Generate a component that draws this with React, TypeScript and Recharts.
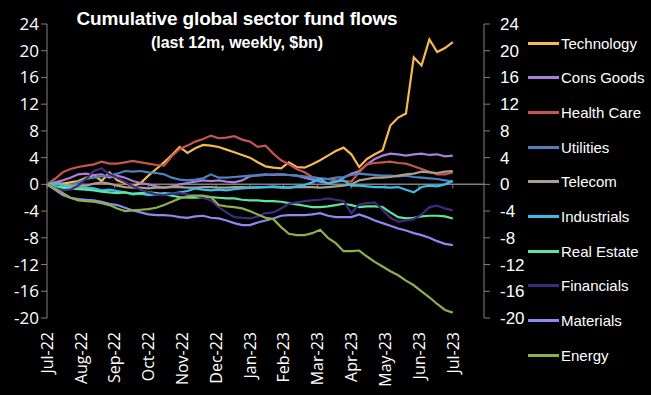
import React from 'react';
import { LineChart, Line, XAxis, YAxis, ReferenceLine } from 'recharts';

const MONTHS = ['Jul-22','Aug-22','Sep-22','Oct-22','Nov-22','Dec-22','Jan-23','Feb-23','Mar-23','Apr-23','May-23','Jun-23','Jul-23'];
const Y_TICKS = [-20,-16,-12,-8,-4,0,4,8,12,16,20,24];
const SERIES_NAMES = ['Technology','Cons Goods','Health Care','Utilities','Telecom','Industrials','Real Estate','Financials','Materials','Energy'];
const SERIES_COLORS = ['#F6B94F','#A97FD8','#C4554F','#4F81BD','#A89F8B','#38BEEB','#5CE59C','#3F2A7E','#8A8AF2','#8CB04C'];

const technology = [0,0.2,0.1,0.3,0.5,1.0,1.4,0.5,1.8,0.6, 0.2,-0.3,0.2,1.3,2.3,3.3,4.4,5.6,4.7,5.4, 5.9,5.8,5.6,5.2,4.8,4.4,4.0,3.3,2.7,2.5, 2.4,3.3,2.6,2.5,3.0,3.6,4.3,5.0,5.5,4.5, 2.6,3.8,4.5,5.1,8.8,10.0,10.6,19.0,17.8,21.7, 19.8,20.4,21.3];
const consGoods = [0,0.3,0.6,1.0,1.5,1.6,1.4,1.5,1.0,1.3, 1.0,0.5,0.2,0,-0.3,-0.5,-0.3,0,0.2,0.4, 0.6,0.5,0.6,0.4,0.3,0.6,1.2,1.4,1.5,1.4, 1.5,1.4,1.3,1.0,0.7,0.4,0.2,0.4,1.0,1.6, 2.0,3.0,3.8,4.3,4.6,4.5,4.3,4.5,4.6,4.4, 4.5,4.2,4.3];
const healthCare = [0,0.8,1.8,2.3,2.6,2.8,3.0,3.4,3.1,3.1, 3.3,3.5,3.3,3.1,2.9,2.8,4.2,5.3,5.8,6.4, 6.8,7.3,6.9,7.0,7.2,6.7,6.4,5.6,5.8,4.6, 3.6,3.0,2.3,1.8,1.1,0.9,0.8,0.6,0.5,0.4, 1.8,3.0,3.2,3.3,3.4,3.2,3.1,2.7,2.3,1.9, 1.5,1.5,1.8];
const utilities = [0,-0.3,-0.5,-0.2,0.3,0.8,1.0,1.2,1.3,1.6, 2.0,1.9,2.0,1.8,1.7,1.5,1.0,0.7,0.6,0.7, 0.9,1.5,1.0,1.0,1.1,1.2,1.3,1.3,1.4,1.5, 1.5,1.4,1.3,1.2,1.0,0.9,0.8,1.0,1.1,1.4, 1.6,1.5,1.4,1.3,1.3,1.2,1.3,1.1,1.0,0.9, 0.8,0.6,0.4];
const telecom = [0,0.2,0,-0.2,-0.3,-0.2,0.1,0.3,0.1,-0.2, -0.4,-0.5,-0.5,-0.6,-0.5,-0.5,-0.4,-0.4,-0.5,-0.5, -0.4,-0.4,-0.5,-0.5,-0.4,-0.4,-0.5,-0.5,-0.4,-0.4, -0.5,-0.5,-0.4,-0.4,-0.4,-0.5,-0.4,-0.3,-0.2,0, 0.6,0.8,1.0,1.0,1.1,1.3,1.5,1.6,1.9,1.8, 1.7,1.9,2.0];
const industrials = [0,0.2,-0.2,-0.4,-0.6,-0.5,-0.6,-0.9,-0.8,-1.0, -1.2,-1.5,-1.4,-1.6,-1.5,-1.3,-1.4,-1.2,-1.0,-0.6, -0.8,-0.9,-0.8,-0.9,-0.7,-0.6,-0.5,-0.4,-0.4,-0.3, -0.4,-0.5,-0.3,-0.1,0.3,0.8,0.1,0.4,0.6,-0.2, -0.2,-0.3,-0.4,-0.4,-0.5,-0.4,-0.8,-1.2,-0.4,-0.2, -0.3,0,0.5];
const realEstate = [0,-0.3,-0.5,-0.6,-0.7,-0.8,-0.9,-1.1,-1.2,-1.3, -1.2,-1.4,-1.3,-1.2,-1.3,-1.5,-1.7,-1.9,-2.0,-2.0, -1.9,-1.9,-2.0,-2.1,-2.1,-2.3,-2.4,-2.4,-2.5,-2.5, -2.6,-2.8,-3.0,-3.2,-3.4,-3.4,-3.3,-3.1,-2.9,-3.1, -3.4,-3.3,-3.3,-3.4,-4.2,-4.9,-5.1,-5.0,-4.8,-4.7, -4.7,-4.8,-5.1];
const financials = [0,-0.5,-0.9,-0.8,-0.2,0.8,2.0,2.4,1.5,1.0, 0.4,-0.3,-0.8,-1.2,-1.5,-1.6,-1.4,-1.3,-1.5,-1.7, -2.0,-2.4,-3.4,-4.2,-4.9,-5.0,-5.1,-4.8,-4.3,-4.2, -3.6,-2.9,-2.7,-2.5,-2.4,-2.3,-2.1,-2.3,-2.5,-4.3, -3.0,-2.8,-2.7,-3.8,-5.0,-5.6,-5.4,-5.2,-4.5,-3.4, -3.2,-3.6,-3.9];
const materials = [0,-0.8,-1.6,-2.0,-2.2,-2.3,-2.4,-2.6,-2.9,-3.1, -3.5,-3.9,-4.2,-4.5,-4.6,-4.6,-4.7,-4.9,-5.0,-4.8, -4.7,-5.0,-5.1,-5.4,-5.8,-6.1,-6.1,-5.7,-5.4,-5.1, -4.7,-4.6,-4.6,-4.6,-4.5,-4.3,-4.7,-4.9,-4.9,-4.9, -4.5,-4.9,-5.4,-5.8,-6.2,-6.6,-6.9,-7.3,-7.6,-8.0, -8.5,-8.9,-9.1];
const energy = [0,-0.6,-1.3,-2.0,-2.4,-2.5,-2.6,-2.8,-3.1,-3.6, -4.0,-3.9,-3.8,-3.7,-3.5,-3.1,-2.6,-2.1,-1.8,-1.7, -1.7,-1.9,-3.1,-3.3,-3.4,-3.6,-4.0,-4.5,-5.0,-5.2, -6.4,-7.4,-7.6,-7.6,-7.3,-6.8,-8.0,-8.8,-10.0,-10.0, -9.9,-10.8,-11.6,-12.3,-13.0,-13.6,-14.4,-15.1,-16.0,-16.9, -17.9,-18.8,-19.2];

const SERIES_VALUES = [technology, consGoods, healthCare, utilities, telecom, industrials, realEstate, financials, materials, energy];
const WEEKS_PER_YEAR = 52;
const MONTH_TICKS = MONTHS.map((_, m) => (m * WEEKS_PER_YEAR) / 12);

const data = technology.map((_, i) => {
  const row: Record<string, number> = { week: i };
  SERIES_NAMES.forEach((n, k) => { row[n] = SERIES_VALUES[k][i]; });
  return row;
});

const monthLabel = (v: number) => MONTHS[Math.round((v * 12) / WEEKS_PER_YEAR)] ?? '';

const XTick = (props: any) => {
  const { x, y, payload } = props;
  return (
    <g transform={`translate(${x},${y})`}>
      <text transform="rotate(-90)" x={-6} y={0} dy="0.36em" textAnchor="end" fill="#ffffff" fontSize={16} fontFamily="'Open Sans', sans-serif">
        {monthLabel(payload.value)}
      </text>
    </g>
  );
};

const AXIS_GRAY = '#808080';

export default function App() {
  return (
    <div style={{ position: 'absolute', left: 0, top: 0, width: 651, height: 395, background: '#000000', overflow: 'hidden' }}>
      <div style={{ position: 'absolute', left: 37, width: 400, top: 6, textAlign: 'center', color: '#fff', fontFamily: "'Liberation Sans', Arial, sans-serif", fontWeight: 700, fontSize: 19, letterSpacing: -0.15, lineHeight: '26px' }}>
        Cumulative global sector fund flows
      </div>
      <div style={{ position: 'absolute', left: 37, width: 400, top: 32, textAlign: 'center', color: '#fff', fontFamily: "'Liberation Sans', Arial, sans-serif", fontWeight: 700, fontSize: 16, lineHeight: '22px' }}>
        (last 12m, weekly, $bn)
      </div>
      <LineChart width={651} height={395} data={data} margin={{ top: 24, right: 127, left: 7, bottom: 7 }} style={{ position: 'absolute', left: 0, top: 0 }}>
        <XAxis dataKey="week" type="number" domain={[0, 56]} ticks={MONTH_TICKS} interval={0} height={70} axisLine={false} tickLine={false} tick={<XTick />} allowDataOverflow />
        <YAxis yAxisId="left" orientation="left" type="number" domain={[-20, 24]} ticks={Y_TICKS} interval={0} width={40} axisLine={{ stroke: AXIS_GRAY }} tickLine={{ stroke: AXIS_GRAY }} tick={{ fill: '#ffffff', fontSize: 17, fontFamily: "'Open Sans', sans-serif" }} />
        <YAxis yAxisId="right" orientation="right" type="number" domain={[-20, 24]} ticks={Y_TICKS} interval={0} width={40} tickMargin={10} axisLine={{ stroke: AXIS_GRAY }} tickLine={{ stroke: AXIS_GRAY }} tick={{ fill: '#ffffff', fontSize: 17, fontFamily: "'Liberation Sans', Arial, sans-serif", textAnchor: 'start' }} />
        <ReferenceLine yAxisId="left" y={0} stroke={AXIS_GRAY} strokeWidth={1.5} />
        {MONTH_TICKS.map((t) => (
          <ReferenceLine key={t} yAxisId="left" segment={[{ x: t, y: 0 }, { x: t, y: -0.6 }]} stroke={AXIS_GRAY} strokeWidth={1} />
        ))}
        {SERIES_NAMES.map((n, k) => (
          <Line key={n} yAxisId={k === SERIES_NAMES.length - 1 ? 'right' : 'left'} type="linear" dataKey={n} stroke={SERIES_COLORS[k]} strokeWidth={2.2} dot={false} isAnimationActive={false} />
        ))}
      </LineChart>
      {SERIES_NAMES.map((n, k) => (
        <div key={n} style={{ position: 'absolute', left: 528, top: 43 + k * 34.7 - 10, height: 20, display: 'flex', alignItems: 'center' }}>
          <div style={{ width: 31, height: 3, background: SERIES_COLORS[k] }} />
          <span style={{ marginLeft: 2, color: '#fff', fontFamily: "'Liberation Sans', Arial, sans-serif", fontSize: 15 }}>{n}</span>
        </div>
      ))}
    </div>
  );
}
